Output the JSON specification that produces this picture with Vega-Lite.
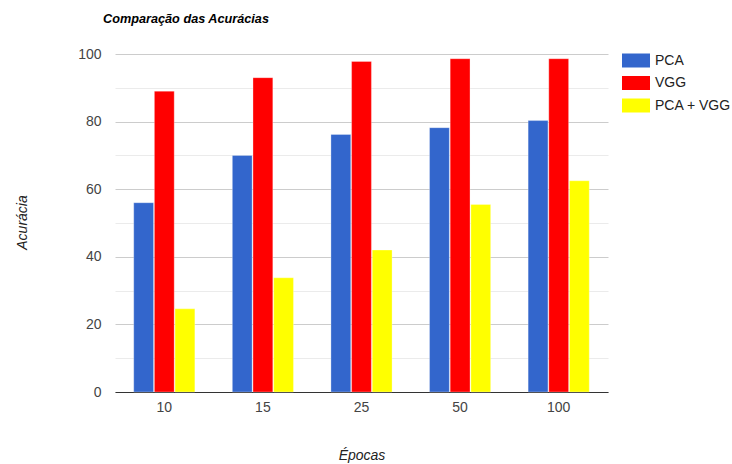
{
  "$schema": "https://vega.github.io/schema/vega-lite/v6.json",
  "width": 493,
  "height": 338,
  "autosize": {"type": "none"},
  "padding": {"left": 115, "top": 54, "right": 124, "bottom": 72},
  "background": "white",
  "title": {
    "text": "Comparação das Acurácias",
    "anchor": "start",
    "frame": "group",
    "font": "Liberation Sans",
    "fontSize": 12.7,
    "fontWeight": "bold",
    "fontStyle": "italic",
    "color": "#000000",
    "baseline": "alphabetic",
    "offset": 11,
    "dx": -12
  },
  "data": {
    "values": [
      {"epocas": "10", "modelo": "PCA", "acuracia": 56},
      {"epocas": "10", "modelo": "VGG", "acuracia": 89},
      {"epocas": "10", "modelo": "PCA + VGG", "acuracia": 24.6},
      {"epocas": "15", "modelo": "PCA", "acuracia": 70},
      {"epocas": "15", "modelo": "VGG", "acuracia": 93},
      {"epocas": "15", "modelo": "PCA + VGG", "acuracia": 33.8},
      {"epocas": "25", "modelo": "PCA", "acuracia": 76.2},
      {"epocas": "25", "modelo": "VGG", "acuracia": 97.8},
      {"epocas": "25", "modelo": "PCA + VGG", "acuracia": 42},
      {"epocas": "50", "modelo": "PCA", "acuracia": 78.2},
      {"epocas": "50", "modelo": "VGG", "acuracia": 98.6},
      {"epocas": "50", "modelo": "PCA + VGG", "acuracia": 55.5},
      {"epocas": "100", "modelo": "PCA", "acuracia": 80.3},
      {"epocas": "100", "modelo": "VGG", "acuracia": 98.6},
      {"epocas": "100", "modelo": "PCA + VGG", "acuracia": 62.5}
    ]
  },
  "mark": {"type": "bar", "stroke": "white", "strokeWidth": 0.5, "strokeOpacity": 0.6},
  "encoding": {
    "x": {
      "field": "epocas",
      "type": "ordinal",
      "sort": ["10", "15", "25", "50", "100"],
      "scale": {"paddingInner": 0.38, "paddingOuter": 0.19},
      "axis": {
        "title": "Épocas",
        "titleFont": "Liberation Sans",
        "titleFontSize": 14,
        "titleFontWeight": "normal",
        "titleFontStyle": "italic",
        "titleColor": "#222222",
        "titleY": 63,
        "titleBaseline": "middle",
        "labelAngle": 0,
        "labelFont": "Liberation Sans",
        "labelFontSize": 14,
        "labelColor": "#444444",
        "labelPadding": 8,
        "ticks": false,
        "domainColor": "#333333",
        "domainWidth": 1,
        "grid": false
      }
    },
    "xOffset": {
      "field": "modelo",
      "type": "nominal",
      "sort": ["PCA", "VGG", "PCA + VGG"],
      "scale": {"paddingInner": 0.04}
    },
    "y": {
      "field": "acuracia",
      "type": "quantitative",
      "scale": {"domain": [0, 100], "nice": false},
      "axis": {
        "title": "Acurácia",
        "titleFont": "Liberation Sans",
        "titleFontSize": 14,
        "titleFontWeight": "normal",
        "titleFontStyle": "italic",
        "titleColor": "#222222",
        "titleAngle": -90,
        "titleX": -93,
        "titleY": 168,
        "titleAlign": "center",
        "titleBaseline": "middle",
        "values": [0, 10, 20, 30, 40, 50, 60, 70, 80, 90, 100],
        "labelExpr": "datum.value % 20 === 0 ? datum.label : ''",
        "labelFont": "Liberation Sans",
        "labelFontSize": 14,
        "labelColor": "#444444",
        "labelPadding": 14,
        "ticks": false,
        "domain": false,
        "gridColor": {
          "condition": {"test": "datum.value % 20 === 0", "value": "#cccccc"},
          "value": "#ebebeb"
        },
        "gridWidth": 1
      }
    },
    "color": {
      "field": "modelo",
      "type": "nominal",
      "sort": ["PCA", "VGG", "PCA + VGG"],
      "scale": {
        "domain": ["PCA", "VGG", "PCA + VGG"],
        "range": ["#3366cc", "#ff0000", "#ffff00"]
      },
      "legend": {
        "title": null,
        "orient": "none",
        "legendX": 507,
        "legendY": -7.5,
        "symbolType": "M-1,-0.5H1V0.5H-1Z",
        "symbolSize": 784,
        "symbolStrokeWidth": 0,
        "symbolOpacity": 1,
        "labelFont": "Liberation Sans",
        "labelFontSize": 14,
        "labelColor": "#222222",
        "labelOffset": 5,
        "rowPadding": 1.5
      }
    }
  },
  "config": {
    "view": {"stroke": null}
  }
}
